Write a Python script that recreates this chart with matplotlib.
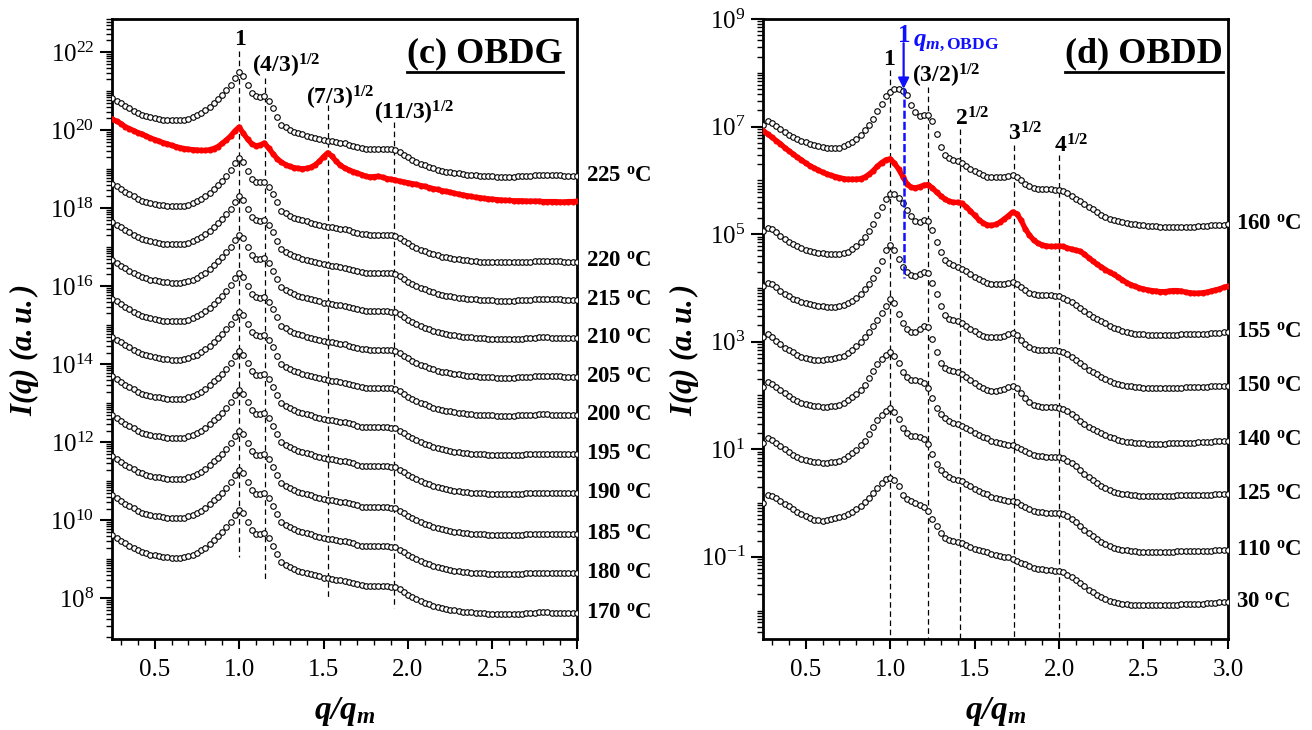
import numpy as np
import matplotlib
matplotlib.use('Agg')
import matplotlib.pyplot as plt
from matplotlib.lines import Line2D
from matplotlib.ticker import (FixedLocator, LogLocator, NullFormatter, FuncFormatter,
                               MultipleLocator, FormatStrFormatter)

plt.rcParams['font.family'] = ['Liberation Serif', 'DejaVu Serif']
plt.rcParams['mathtext.fontset'] = 'custom'
plt.rcParams['mathtext.rm'] = 'Liberation Serif'
plt.rcParams['mathtext.it'] = 'Liberation Serif:italic'
plt.rcParams['mathtext.bf'] = 'Liberation Serif:bold'
plt.rcParams['mathtext.bfit'] = 'Liberation Serif:italic:bold'
plt.rcParams['lines.scale_dashes'] = False

# q/q_m sampling grid of the SAXS profiles
q = np.round(np.arange(0.25, 3.0001, 0.025), 3)

# ---- (c) OBDG: shared black profile, log10 I relative to its value at q/qm = 3
obdg_shape = [2.00, 1.93, 1.86, 1.79, 1.73, 1.67, 1.61, 1.56, 1.53, 1.50,
              1.48, 1.46, 1.44, 1.43, 1.42, 1.42, 1.42, 1.43, 1.46, 1.50,
              1.55, 1.61, 1.68, 1.77, 1.87, 1.97, 2.07, 2.20, 2.34, 2.52,
              2.65, 2.56, 2.33, 2.13, 2.04, 2.03, 2.05, 1.92, 1.73, 1.52,
              1.31, 1.24, 1.18, 1.13, 1.09, 1.06, 1.03, 1.00, 0.97, 0.94,
              0.91, 0.89, 0.88, 0.86, 0.84, 0.83, 0.80, 0.77, 0.74, 0.71,
              0.70, 0.69, 0.69, 0.69, 0.69, 0.69, 0.68, 0.67, 0.61, 0.54,
              0.47, 0.41, 0.36, 0.31, 0.27, 0.23, 0.19, 0.16, 0.13, 0.11,
              0.09, 0.07, 0.06, 0.04, 0.03, 0.02, 0.01, 0.00, 0.00, -0.01,
              -0.01, -0.02, -0.02, -0.02, -0.02, -0.02, -0.01, -0.01, 0.00, 0.00,
              0.01, 0.02, 0.02, 0.02, 0.01, 0.01, 0.01, 0.00, 0.00, 0.00,
              0.00]
obdg_temps = ['225', '220', '215', '210', '205', '200', '195', '190', '185', '180', '170']
obdg_ends = [18.83, 16.63, 15.65, 14.67, 13.68, 12.70, 11.69, 10.69, 9.64, 8.64, 7.62]

# red OBDG curve, log10 I
obdg_red = [20.28, 20.23, 20.17, 20.09, 20.04, 19.99, 19.94, 19.90, 19.85, 19.80,
            19.76, 19.72, 19.68, 19.65, 19.61, 19.58, 19.55, 19.53, 19.51, 19.50,
            19.49, 19.48, 19.48, 19.50, 19.53, 19.58, 19.66, 19.75, 19.85, 19.98,
            20.08, 19.92, 19.77, 19.65, 19.60, 19.62, 19.67, 19.54, 19.40, 19.27,
            19.18, 19.12, 19.07, 19.04, 19.02, 19.01, 19.02, 19.05, 19.11, 19.20,
            19.32, 19.42, 19.33, 19.20, 19.10, 19.03, 18.98, 18.94, 18.90, 18.86,
            18.82, 18.80, 18.81, 18.82, 18.79, 18.76, 18.74, 18.72, 18.69, 18.67,
            18.65, 18.63, 18.61, 18.58, 18.56, 18.53, 18.50, 18.48, 18.45, 18.43,
            18.41, 18.38, 18.36, 18.34, 18.32, 18.30, 18.28, 18.27, 18.25, 18.24,
            18.23, 18.22, 18.21, 18.20, 18.20, 18.19, 18.19, 18.19, 18.18, 18.18,
            18.18, 18.18, 18.17, 18.17, 18.17, 18.17, 18.16, 18.16, 18.17, 18.17,
            18.18]

# ---- (d) OBDD curves, log10 I
obdd_160 = [7.03, 7.10, 7.07, 7.01, 6.95, 6.90, 6.85, 6.81, 6.77, 6.74,
            6.71, 6.68, 6.66, 6.64, 6.62, 6.61, 6.60, 6.60, 6.61, 6.63,
            6.67, 6.71, 6.77, 6.84, 6.93, 7.03, 7.14, 7.28, 7.42, 7.56,
            7.65, 7.70, 7.70, 7.67, 7.58, 7.40, 7.27, 7.20, 7.22, 7.21,
            7.10, 6.86, 6.62, 6.47, 6.41, 6.38, 6.36, 6.32, 6.27, 6.21,
            6.17, 6.13, 6.10, 6.07, 6.06, 6.06, 6.06, 6.06, 6.08, 6.09,
            6.06, 6.00, 5.94, 5.89, 5.85, 5.83, 5.83, 5.83, 5.83, 5.82,
            5.82, 5.80, 5.76, 5.71, 5.66, 5.61, 5.56, 5.51, 5.46, 5.41,
            5.36, 5.32, 5.29, 5.27, 5.24, 5.22, 5.20, 5.19, 5.18, 5.17,
            5.16, 5.15, 5.15, 5.15, 5.14, 5.14, 5.14, 5.14, 5.14, 5.14,
            5.14, 5.14, 5.14, 5.15, 5.15, 5.15, 5.16, 5.16, 5.17, 5.17,
            5.18]
obdd_red = [6.92, 6.86, 6.80, 6.74, 6.68, 6.61, 6.55, 6.49, 6.43, 6.38,
            6.32, 6.27, 6.23, 6.19, 6.15, 6.12, 6.09, 6.07, 6.05, 6.03,
            6.02, 6.02, 6.02, 6.03, 6.06, 6.11, 6.18, 6.26, 6.33, 6.38,
            6.40, 6.32, 6.21, 6.07, 5.93, 5.87, 5.86, 5.88, 5.91, 5.92,
            5.86, 5.78, 5.71, 5.65, 5.61, 5.59, 5.59, 5.57, 5.51, 5.43,
            5.35, 5.27, 5.21, 5.17, 5.16, 5.18, 5.22, 5.28, 5.34, 5.41,
            5.38, 5.26, 5.10, 4.98, 4.89, 4.83, 4.80, 4.78, 4.77, 4.77,
            4.78, 4.77, 4.74, 4.72, 4.70, 4.68, 4.63, 4.56, 4.50, 4.44,
            4.39, 4.34, 4.29, 4.25, 4.20, 4.15, 4.10, 4.06, 4.03, 4.00,
            3.98, 3.96, 3.95, 3.94, 3.93, 3.93, 3.94, 3.95, 3.95, 3.94,
            3.92, 3.91, 3.90, 3.90, 3.91, 3.92, 3.94, 3.96, 3.98, 4.01,
            4.03]
obdd_155 = [5.05, 5.12, 5.09, 5.03, 4.96, 4.90, 4.85, 4.81, 4.77, 4.74,
            4.71, 4.69, 4.67, 4.65, 4.64, 4.63, 4.63, 4.63, 4.63, 4.64,
            4.67, 4.72, 4.78, 4.86, 4.95, 5.06, 5.19, 5.35, 5.51, 5.65,
            5.74, 5.74, 5.67, 5.57, 5.45, 5.33, 5.25, 5.22, 5.26, 5.25,
            5.08, 4.86, 4.66, 4.52, 4.46, 4.42, 4.39, 4.36, 4.31, 4.26,
            4.21, 4.17, 4.13, 4.10, 4.08, 4.07, 4.07, 4.08, 4.10, 4.11,
            4.08, 4.02, 3.96, 3.91, 3.88, 3.86, 3.86, 3.86, 3.86, 3.85,
            3.84, 3.82, 3.78, 3.74, 3.69, 3.63, 3.57, 3.51, 3.46, 3.42,
            3.38, 3.34, 3.29, 3.26, 3.23, 3.20, 3.18, 3.17, 3.15, 3.14,
            3.14, 3.13, 3.13, 3.13, 3.13, 3.13, 3.13, 3.13, 3.13, 3.14,
            3.14, 3.14, 3.14, 3.14, 3.15, 3.15, 3.16, 3.16, 3.17, 3.18,
            3.18]
obdd_150 = [4.04, 4.10, 4.07, 4.01, 3.94, 3.89, 3.84, 3.80, 3.77, 3.74,
            3.72, 3.70, 3.68, 3.67, 3.66, 3.65, 3.65, 3.65, 3.66, 3.68,
            3.71, 3.76, 3.82, 3.89, 3.98, 4.07, 4.18, 4.33, 4.50, 4.70,
            4.79, 4.71, 4.54, 4.38, 4.30, 4.24, 4.23, 4.26, 4.30, 4.27,
            4.10, 3.88, 3.66, 3.50, 3.43, 3.40, 3.38, 3.35, 3.30, 3.24,
            3.19, 3.15, 3.11, 3.09, 3.08, 3.08, 3.09, 3.11, 3.15, 3.17,
            3.13, 3.04, 2.96, 2.90, 2.86, 2.84, 2.84, 2.84, 2.84, 2.84,
            2.83, 2.81, 2.77, 2.72, 2.66, 2.60, 2.54, 2.48, 2.43, 2.39,
            2.35, 2.31, 2.27, 2.24, 2.22, 2.20, 2.18, 2.17, 2.16, 2.15,
            2.14, 2.14, 2.13, 2.13, 2.13, 2.13, 2.13, 2.14, 2.14, 2.14,
            2.15, 2.15, 2.15, 2.15, 2.16, 2.16, 2.17, 2.17, 2.18, 2.18,
            2.18]
obdd_140 = [3.08, 3.14, 3.09, 3.02, 2.95, 2.89, 2.84, 2.80, 2.76, 2.72,
            2.69, 2.67, 2.66, 2.66, 2.66, 2.67, 2.68, 2.69, 2.71, 2.74,
            2.78, 2.84, 2.92, 3.00, 3.08, 3.18, 3.29, 3.41, 3.53, 3.67,
            3.79, 3.72, 3.52, 3.35, 3.24, 3.18, 3.18, 3.24, 3.30, 3.27,
            3.05, 2.80, 2.60, 2.51, 2.47, 2.45, 2.43, 2.40, 2.34, 2.28,
            2.23, 2.18, 2.14, 2.11, 2.09, 2.09, 2.10, 2.12, 2.16, 2.18,
            2.13, 2.04, 1.95, 1.88, 1.83, 1.80, 1.79, 1.79, 1.79, 1.78,
            1.77, 1.75, 1.71, 1.66, 1.60, 1.53, 1.47, 1.42, 1.38, 1.34,
            1.30, 1.26, 1.23, 1.20, 1.18, 1.16, 1.14, 1.13, 1.12, 1.11,
            1.11, 1.10, 1.10, 1.10, 1.10, 1.10, 1.11, 1.11, 1.11, 1.12,
            1.12, 1.12, 1.12, 1.13, 1.13, 1.14, 1.14, 1.15, 1.15, 1.16,
            1.16]
obdd_125 = [2.15, 2.25, 2.22, 2.16, 2.10, 2.04, 1.99, 1.94, 1.90, 1.86,
            1.84, 1.82, 1.81, 1.80, 1.79, 1.79, 1.80, 1.81, 1.83, 1.86,
            1.91, 1.97, 2.03, 2.11, 2.20, 2.32, 2.45, 2.58, 2.68, 2.76,
            2.80, 2.74, 2.60, 2.44, 2.34, 2.29, 2.28, 2.26, 2.23, 2.13,
            1.95, 1.77, 1.66, 1.58, 1.53, 1.49, 1.46, 1.44, 1.40, 1.35,
            1.30, 1.26, 1.23, 1.20, 1.16, 1.14, 1.12, 1.10, 1.08, 1.07,
            1.05, 1.01, 0.97, 0.93, 0.90, 0.88, 0.87, 0.86, 0.86, 0.85,
            0.85, 0.83, 0.79, 0.74, 0.68, 0.61, 0.54, 0.48, 0.42, 0.37,
            0.32, 0.28, 0.24, 0.21, 0.19, 0.17, 0.16, 0.15, 0.14, 0.13,
            0.13, 0.13, 0.13, 0.13, 0.13, 0.13, 0.13, 0.13, 0.14, 0.14,
            0.14, 0.14, 0.14, 0.15, 0.15, 0.15, 0.15, 0.16, 0.16, 0.16,
            0.16]
obdd_110_shift = -1.04  # 110 C has the 125 C shape, one decade lower
obdd_30 = [0.00, 0.15, 0.13, 0.09, 0.04, -0.01, -0.06, -0.12, -0.16, -0.21,
           -0.25, -0.28, -0.31, -0.32, -0.33, -0.32, -0.30, -0.28, -0.26, -0.24,
           -0.21, -0.17, -0.12, -0.06, 0.01, 0.09, 0.18, 0.28, 0.38, 0.45,
           0.47, 0.43, 0.32, 0.15, 0.07, 0.03, 0.00, -0.03, -0.07, -0.15,
           -0.29, -0.43, -0.56, -0.65, -0.69, -0.71, -0.73, -0.75, -0.78, -0.81,
           -0.85, -0.87, -0.90, -0.92, -0.95, -0.97, -0.99, -1.00, -1.01, -1.04,
           -1.08, -1.11, -1.14, -1.18, -1.21, -1.22, -1.23, -1.24, -1.25, -1.26,
           -1.26, -1.29, -1.33, -1.37, -1.43, -1.49, -1.55, -1.61, -1.66, -1.71,
           -1.75, -1.79, -1.82, -1.84, -1.86, -1.87, -1.88, -1.89, -1.89, -1.90,
           -1.90, -1.90, -1.90, -1.90, -1.90, -1.90, -1.89, -1.89, -1.89, -1.88,
           -1.88, -1.88, -1.87, -1.87, -1.87, -1.86, -1.86, -1.86, -1.85, -1.85,
           -1.85]

# peak guides: position, top/bottom (log10), label, label baseline (log10), label anchor
obdg_guides = [(1.0, 22.03, 9.07, r'$\mathbf{1}$', 22.19, 'center', 1.01),
               (np.sqrt(4 / 3), 21.33, 8.43, r'$\mathbf{(4/3)^{1/2}}$', 21.47, 'left', 1.075),
               (np.sqrt(7 / 3), 20.65, 7.97, r'$\mathbf{(7/3)^{1/2}}$', 20.67, 'left', 1.395),
               (np.sqrt(11 / 3), 20.22, 7.74, r'$\mathbf{(11/3)^{1/2}}$', 20.26, 'left', 1.80)]
obdd_guides = [(1.0, 8.05, -2.52, r'$\mathbf{1}$', 8.14, 'center', 0.995),
               (np.sqrt(3 / 2), 7.74, -2.52, r'$\mathbf{(3/2)^{1/2}}$', 7.81, 'left', 1.13),
               (np.sqrt(2), 6.96, -2.52, r'$\mathbf{2^{1/2}}$', 7.02, 'left', 1.383),
               (np.sqrt(3), 6.65, -2.52, r'$\mathbf{3^{1/2}}$', 6.74, 'left', 1.70),
               (2.0, 6.47, -2.52, r'$\mathbf{4^{1/2}}$', 6.52, 'left', 1.97)]
qm_obdg = 1.08


def deg(t):
    return t + r' $\mathbf{^{o}}$C'


def style_axes(ax, ylog, majors):
    ax.set_xlim(0.25, 3.0)
    ax.set_yscale('log')
    ax.set_ylim(10 ** ylog[0], 10 ** ylog[1])
    ax.yaxis.set_major_locator(FixedLocator([10.0 ** m for m in majors]))
    ax.yaxis.set_major_formatter(FuncFormatter(
        lambda v, p: r'$\mathdefault{10^{%d}}$' % int(round(np.log10(v)))))
    ax.yaxis.set_minor_locator(LogLocator(base=10, subs=np.arange(1, 10), numticks=100))
    ax.yaxis.set_minor_formatter(NullFormatter())
    ax.xaxis.set_major_locator(MultipleLocator(0.5))
    ax.xaxis.set_minor_locator(MultipleLocator(0.1))
    ax.xaxis.set_major_formatter(FormatStrFormatter('%.1f'))
    ax.tick_params(which='major', direction='out', width=1.5, labelsize=18)
    ax.tick_params(axis='y', which='major', length=9, pad=4)
    ax.tick_params(axis='x', which='major', length=7, pad=8)
    ax.tick_params(which='minor', direction='out', length=4, width=1)
    for sp in ax.spines.values():
        sp.set_linewidth(2)
    ax.set_ylabel(r'$\mathbfit{I(q)\ (a.u.)}$', fontsize=22)
    ax.set_xlabel(r'$\mathbfit{q/q}_{\mathbfit{m}}$', fontsize=24)
    ax.xaxis.label.set_va('center')
    ax.yaxis.label.set_va('center')


def open_circles(ax, logI):
    ax.plot(q, 10 ** np.asarray(logI), 'o', ms=4.0, mfc='white', mec='black',
            mew=0.8, zorder=3)


def red_curve(ax, logI):
    ax.plot(q, 10 ** np.asarray(logI), '-', color='#ff0000', lw=3.8, marker='o',
            ms=4.4, mec='none', zorder=4)


def guides(ax, rows):
    for x, top, bot, lab, ylab, ha, xlab in rows:
        ax.plot([x, x], [10 ** top, 10 ** bot], color='black', lw=0.9,
                ls=(0, (4, 2.6)), zorder=2)
        ax.text(xlab, 10 ** ylab, lab, ha=ha, va='baseline', fontsize=17)


fig = plt.figure(figsize=(13.12, 7.30), dpi=100)
axL = fig.add_axes([0.0857, 0.1253, 0.3540, 0.8487])
axR = fig.add_axes([0.5819, 0.1253, 0.3540, 0.8487])

# ---- left panel
style_axes(axL, (6.97, 22.85), range(8, 23, 2))
guides(axL, obdg_guides)
for t, e in zip(obdg_temps, obdg_ends):
    open_circles(axL, np.array(obdg_shape) + e)
    axL.text(3.055, 10 ** e, deg(t), ha='left', va='center', fontsize=16.5,
             fontweight='bold', clip_on=False)
red_curve(axL, obdg_red)
titL = axL.text(0.970, 0.9435, '(c) OBDG', transform=axL.transAxes, ha='right',
                va='center', fontsize=26, fontweight='bold')
axL.yaxis.set_label_coords(-0.19, 0.466)
axL.xaxis.set_label_coords(0.5, -0.117)

# ---- right panel
style_axes(axR, (-2.52, 9.0), range(-1, 10, 2))
guides(axR, obdd_guides)
black_right = [('160', obdd_160), ('155', obdd_155), ('150', obdd_150),
               ('140', obdd_140), ('125', obdd_125),
               ('110', np.array(obdd_125) + obdd_110_shift), ('30', obdd_30)]
for t, logI in black_right:
    open_circles(axR, logI)
    axR.text(3.045, 10 ** logI[-1], deg(t), ha='left', va='center', fontsize=16.5,
             fontweight='bold', clip_on=False)
red_curve(axR, obdd_red)

# blue marker of the OBDG peak position
axR.plot([qm_obdg, qm_obdg], [10 ** 7.71, 10 ** 4.19], color='#1010ff', lw=1.8,
         ls=(0, (5.8, 2.2)), zorder=5)
axR.annotate('', xy=(qm_obdg, 10 ** 7.70), xytext=(qm_obdg, 10 ** 8.55),
             arrowprops=dict(arrowstyle='-|>', color='#1010ff', lw=1.6,
                             mutation_scale=16, shrinkA=0, shrinkB=0), zorder=6)
axR.text(qm_obdg, 10 ** 8.57, r'$\mathbf{1}$', color='#1010ff', ha='center',
         va='baseline', fontsize=18)
axR.text(qm_obdg + 0.055, 10 ** 8.50, r'$\mathbfit{q}_{\mathbfit{m}\mathbf{,OBDG}}$',
         color='#1010ff', ha='left', va='baseline', fontsize=18)
titR = axR.text(0.989, 0.9435, '(d) OBDD', transform=axR.transAxes, ha='right',
                va='center', fontsize=26, fontweight='bold')
axR.yaxis.set_label_coords(-0.171, 0.466)
axR.xaxis.set_label_coords(0.5, -0.117)

# underline the panel titles
fig.canvas.draw()
renderer = fig.canvas.get_renderer()
W, H = fig.bbox.width, fig.bbox.height
for t in (titL, titR):
    bb = t.get_window_extent(renderer)
    y = (bb.y0 - 1.5) / H
    fig.add_artist(Line2D([bb.x0 / W, bb.x1 / W], [y, y], color='black', lw=2.0,
                          transform=fig.transFigure))

fig.savefig('out.png', dpi=100)
